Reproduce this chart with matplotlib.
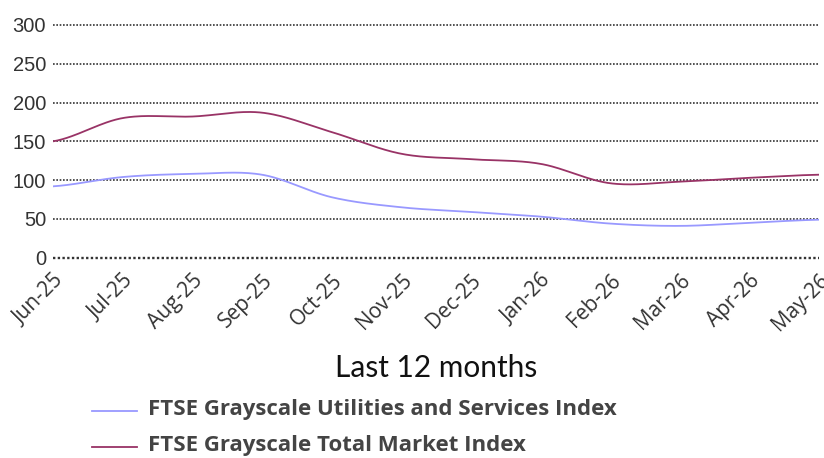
import numpy as np
import matplotlib
matplotlib.use("Agg")
import matplotlib.pyplot as plt

months = ["Jun-25", "Jul-25", "Aug-25", "Sep-25", "Oct-25", "Nov-25",
          "Dec-25", "Jan-26", "Feb-26", "Mar-26", "Apr-26", "May-26"]
utilities = [92, 104, 108, 107, 78, 65, 59, 53, 44, 41, 45, 49]
total_market = [150, 180, 182, 187, 162, 134, 127, 121, 96, 98, 103, 107]
yticks = [0, 50, 100, 150, 200, 250, 300]

series_names = ["FTSE Grayscale Utilities and Services Index",
                "FTSE Grayscale Total Market Index"]
colors = ["#9999ff", "#993366"]


def smooth(y, n=30, tension=0.5):
    """Cardinal (Catmull-Rom style) spline for drawing a smooth line through points."""
    y = np.asarray(y, float)
    x = np.arange(len(y), dtype=float)
    m = np.zeros_like(y)
    m[1:-1] = tension * (y[2:] - y[:-2])
    m[0] = tension * (y[1] - y[0])
    m[-1] = tension * (y[-1] - y[-2])
    xs, ys = [], []
    for i in range(len(y) - 1):
        t = np.linspace(0, 1, n, endpoint=False)
        h00 = 2 * t**3 - 3 * t**2 + 1
        h10 = t**3 - 2 * t**2 + t
        h01 = -2 * t**3 + 3 * t**2
        h11 = t**3 - t**2
        xs.append(x[i] + t)
        ys.append(h00 * y[i] + h10 * m[i] + h01 * y[i + 1] + h11 * m[i + 1])
    xs.append([x[-1]])
    ys.append([y[-1]])
    return np.concatenate(xs), np.concatenate(ys)


plt.rcParams["font.family"] = ["Lato", "DejaVu Sans"]

fig = plt.figure(figsize=(8.24, 4.58), dpi=100)
ax = fig.add_axes([53 / 824, 1 - 257.7 / 458, (819 - 53) / 824, (257.7 - 25) / 458])

x = np.arange(len(months))
for vals, name, c in zip([utilities, total_market], series_names, colors):
    xs, ys = smooth(vals)
    ax.plot(xs, ys, color=c, lw=1.3, label=name, zorder=3, solid_capstyle="round")

ax.set_xlim(0, len(months) - 1)
ax.set_ylim(0, 300)
ax.set_yticks(yticks)
ax.set_yticklabels([str(v) for v in yticks], fontsize=14.5, color="#333333",
                   family=["Liberation Sans", "DejaVu Sans"])
ax.set_xticks(x)
ax.set_xticklabels(months, rotation=45, ha="right", va="top", rotation_mode="anchor",
                   fontsize=15, color="#333333", family=["Open Sans", "DejaVu Sans"])
ax.tick_params(axis="y", length=0, pad=5)
ax.tick_params(axis="x", length=0, pad=9)
for s in ax.spines.values():
    s.set_visible(False)
for v in yticks:
    ax.axhline(v, color="#333333", lw=1.7 if v == 0 else 1.2,
               linestyle=(0, (1, 1)), zorder=1, clip_on=False)

fig.text(436 / 824, 1 - 368 / 458, "Last 12 months", ha="center", va="center",
         fontsize=21.5, color="#111111")

# legend drawn manually in figure coordinates
leg_y = [411, 447]
for yy, name, c in zip(leg_y, series_names, colors):
    fig.add_artist(plt.Line2D([92 / 824, 137 / 824], [1 - yy / 458, 1 - yy / 458],
                              color=c, lw=1.3))
    fig.text(148 / 824, 1 - (yy - 1) / 458, name, ha="left", va="center",
             fontsize=16, fontweight="bold", color="#444444",
             family=["Open Sans", "DejaVu Sans"])

fig.savefig("out.png", dpi=100)
